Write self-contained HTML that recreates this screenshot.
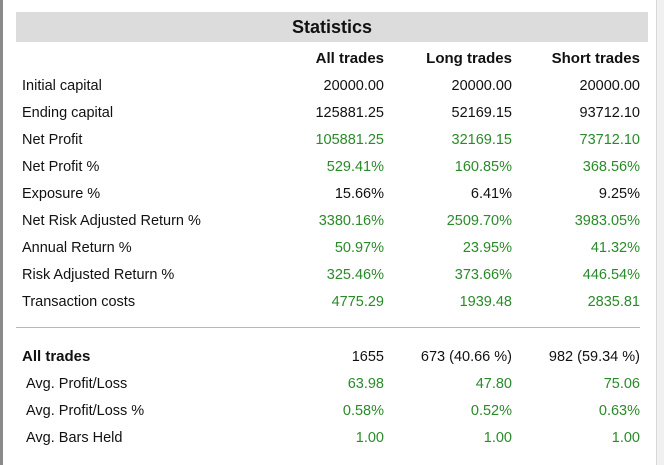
<!DOCTYPE html>
<html><head><style>
body{margin:0;width:664px;height:465px;background:#fff;position:relative;overflow:hidden;font-family:"Liberation Sans","DejaVu Sans",sans-serif;font-size:14.5px;color:#111}
.lb{position:absolute;left:0;top:0;width:3px;height:465px;background:#8a8a8a}
.rb{position:absolute;left:656px;top:0;width:8px;height:465px;background:#f0f0f0;border-left:1px solid #d8d8d8}
.hd{position:absolute;left:16px;top:12px;width:632px;height:30px;background:#dcdcdc;text-align:center;line-height:30px;font-weight:bold;font-size:18px}
.r{position:absolute;left:22px;width:620px;height:20px;line-height:20px}
.r span{position:absolute;white-space:nowrap}
.l{left:0}
.a{right:258px;text-align:right}
.b{right:130px;text-align:right}
.c{right:2px;text-align:right}
.g span.a,.g span.b,.g span.c{color:#2a8a2a}
.sep{position:absolute;left:16px;top:327px;width:624px;height:1px;background:#b8b8b8}
</style></head><body>
<div class="lb"></div><div class="rb"></div>
<div class="hd">Statistics</div>
<div class="r" style="top:49px;font-weight:bold;font-size:15px"><span class="a">All trades</span><span class="b">Long trades</span><span class="c">Short trades</span></div>
<div class="r" style="top:76px"><span class="l">Initial capital</span><span class="a">20000.00</span><span class="b">20000.00</span><span class="c">20000.00</span></div>
<div class="r" style="top:103px"><span class="l">Ending capital</span><span class="a">125881.25</span><span class="b">52169.15</span><span class="c">93712.10</span></div>
<div class="r g" style="top:130px"><span class="l">Net Profit</span><span class="a">105881.25</span><span class="b">32169.15</span><span class="c">73712.10</span></div>
<div class="r g" style="top:157px"><span class="l">Net Profit %</span><span class="a">529.41%</span><span class="b">160.85%</span><span class="c">368.56%</span></div>
<div class="r" style="top:184px"><span class="l">Exposure %</span><span class="a">15.66%</span><span class="b">6.41%</span><span class="c">9.25%</span></div>
<div class="r g" style="top:211px"><span class="l">Net Risk Adjusted Return %</span><span class="a">3380.16%</span><span class="b">2509.70%</span><span class="c">3983.05%</span></div>
<div class="r g" style="top:238px"><span class="l">Annual Return %</span><span class="a">50.97%</span><span class="b">23.95%</span><span class="c">41.32%</span></div>
<div class="r g" style="top:265px"><span class="l">Risk Adjusted Return %</span><span class="a">325.46%</span><span class="b">373.66%</span><span class="c">446.54%</span></div>
<div class="r g" style="top:292px"><span class="l">Transaction costs</span><span class="a">4775.29</span><span class="b">1939.48</span><span class="c">2835.81</span></div>
<div class="sep"></div>
<div class="r" style="top:347px"><span class="l" style="font-weight:bold;font-size:15px">All trades</span><span class="a">1655</span><span class="b">673 (40.66 %)</span><span class="c">982 (59.34 %)</span></div>
<div class="r g" style="top:374px"><span class="l" style="left:4px">Avg. Profit/Loss</span><span class="a">63.98</span><span class="b">47.80</span><span class="c">75.06</span></div>
<div class="r g" style="top:401px"><span class="l" style="left:4px">Avg. Profit/Loss %</span><span class="a">0.58%</span><span class="b">0.52%</span><span class="c">0.63%</span></div>
<div class="r g" style="top:428px"><span class="l" style="left:4px">Avg. Bars Held</span><span class="a">1.00</span><span class="b">1.00</span><span class="c">1.00</span></div>
</body></html>
